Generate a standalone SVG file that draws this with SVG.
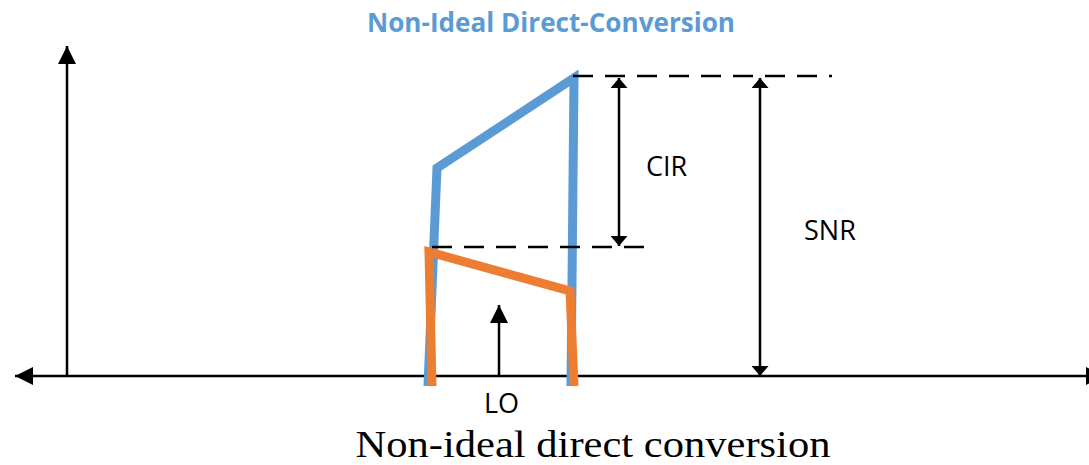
<svg xmlns="http://www.w3.org/2000/svg" width="1089" height="465" viewBox="0 0 1089 465">
  <style>
    .axis { stroke: #000; stroke-width: 2.5; fill: none; }
    .dim { stroke: #000; stroke-width: 2.5; fill: none; }
    .dash { stroke: #000; stroke-width: 2.5; fill: none; stroke-dasharray: 20 12; }
    .lbl { font-family: "Open Sans", "Liberation Sans", sans-serif; font-size: 27px; fill: #000; }
  </style>
  <defs>
    <!-- solid triangle head, equal length and width -->
    <marker id="ah" viewBox="0 0 10 10" refX="10" refY="5" markerUnits="userSpaceOnUse" markerWidth="18" markerHeight="18" orient="auto-start-reverse">
      <path d="M0,0 L10,5 L0,10 z" fill="#000"/>
    </marker>
    <!-- flatter head for dimension arrows -->
    <marker id="ahs" viewBox="0 0 10 10" refX="10" refY="5" markerUnits="userSpaceOnUse" markerWidth="10" markerHeight="17" orient="auto-start-reverse" preserveAspectRatio="none">
      <path d="M0,0 L10,5 L0,10 z" fill="#000"/>
    </marker>
  </defs>

  <text x="551" y="32" text-anchor="middle" font-family="'Open Sans', 'Liberation Sans', sans-serif" font-weight="bold" font-size="26" fill="#5B9BD5" textLength="368" lengthAdjust="spacingAndGlyphs">Non-Ideal Direct-Conversion</text>

  <g id="axes">
    <line class="axis" x1="67" y1="376" x2="67" y2="46" marker-end="url(#ah)"/>
    <line class="axis" x1="1104" y1="376" x2="15" y2="376" marker-start="url(#ah)" marker-end="url(#ah)"/>
  </g>

  <g id="blue-spectrum">
    <polyline points="428,386 437,168 574,78 571,386" fill="none" stroke="#5B9BD5" stroke-width="9" stroke-linejoin="miter"/>
  </g>

  <g id="orange-spectrum">
    <polyline points="432,386 429,252 570,291 574,386" fill="none" stroke="#ED7D31" stroke-width="9" stroke-linejoin="miter"/>
  </g>

  <g id="connectors">
    <line class="dash" x1="573" y1="76" x2="832" y2="76"/>
    <line class="dash" x1="432" y1="247" x2="644" y2="247"/>
    <line class="dim" x1="619" y1="78" x2="619" y2="246" marker-start="url(#ahs)" marker-end="url(#ahs)"/>
    <line class="dim" x1="760" y1="78" x2="760" y2="376" marker-start="url(#ahs)" marker-end="url(#ahs)"/>
    <line class="dim" x1="499" y1="376" x2="499" y2="305" marker-end="url(#ah)"/>
  </g>

  <g id="cir"><text class="lbl" x="646" y="176">CIR</text></g>
  <g id="snr"><text class="lbl" x="804" y="240">SNR</text></g>
  <g id="lo"><text class="lbl" x="484" y="413" font-size="25">LO</text></g>

  <text x="593" y="457" text-anchor="middle" font-family="'Liberation Serif', 'Times New Roman', serif" font-size="38" fill="#000" textLength="475" lengthAdjust="spacingAndGlyphs">Non-ideal direct conversion</text>
</svg>
